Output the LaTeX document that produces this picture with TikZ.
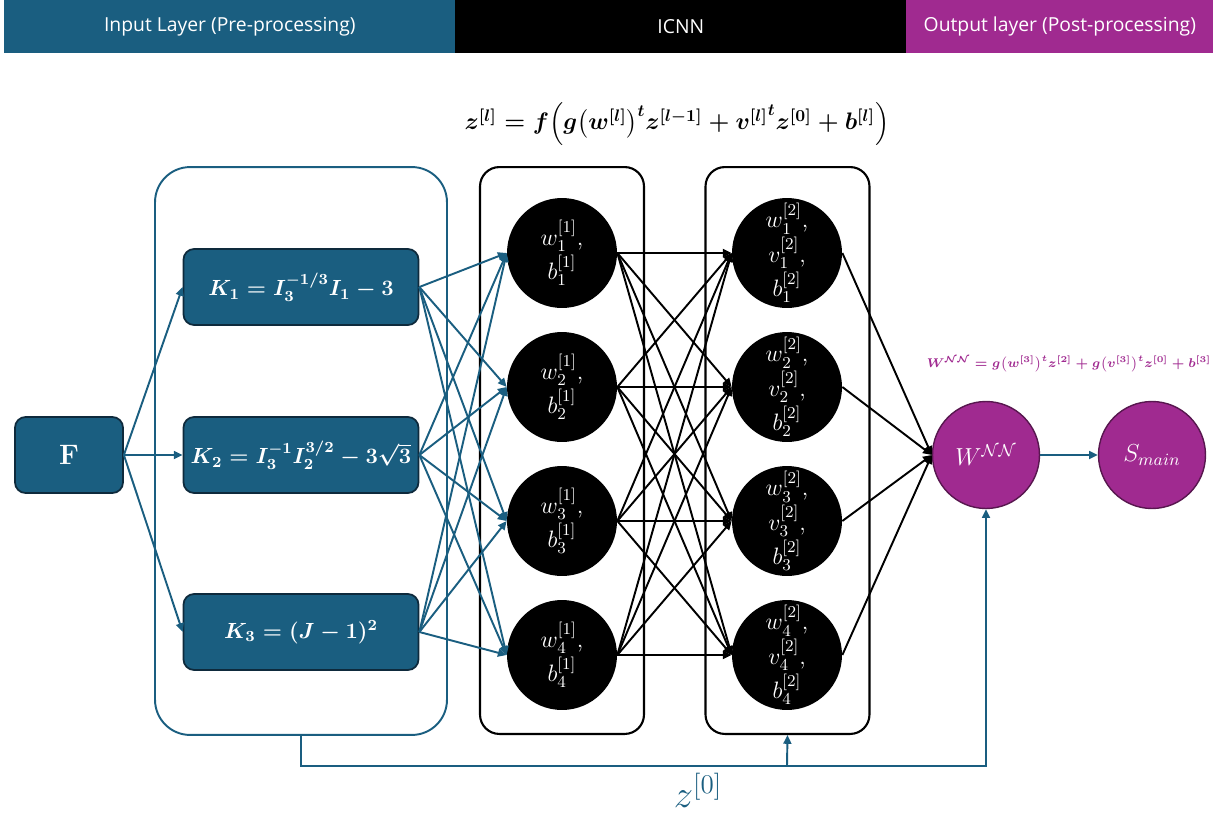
\RequirePackage{fix-cm}
\documentclass[tikz,border=0pt]{standalone}
\usepackage{amsmath,amssymb,bm}
\usepackage{fontspec}
\newfontfamily\headfont{Open Sans}
\usetikzlibrary{arrows.meta}
\definecolor{icnnteal}{RGB}{26,94,128}
\definecolor{icnndark}{RGB}{14,42,60}
\definecolor{icnnpurple}{RGB}{160,42,144}

\begin{document}
\begin{tikzpicture}[x=0.02cm,y=-0.02cm,>={Triangle[length=5pt,width=4.5pt]},
  hdr/.style={anchor=north west,minimum height=1.06cm,inner sep=0,text=white,font=\headfont\fontsize{11}{13}\selectfont},
  kbox/.style={draw=icnndark,line width=1pt,fill=icnnteal,rounded corners=6pt,text=white,minimum height=1.52cm,font=\boldmath\fontsize{12.5}{15}\selectfont},
  neuron/.style={circle,fill=black,minimum size=2.2cm,inner sep=0,text=white,align=center,font=\fontsize{13.5}{19.5}\selectfont},
  outnode/.style={circle,draw=icnnpurple!55!black,line width=0.8pt,fill=icnnpurple,minimum size=2.14cm,inner sep=0,text=white,font=\fontsize{14}{16}\selectfont},
  layerbox/.style={draw,line width=1.2pt,rounded corners=11pt,minimum width=3.28cm,minimum height=11.34cm},
  tealarr/.style={->,icnnteal,line width=1.1pt},
  blkarr/.style={->,black,line width=1.1pt}]
\useasboundingbox (0,0) rectangle (1218,818);
\node[hdr,fill=icnnteal,minimum width=9.02cm] (hin) at (4,0) {Input Layer (Pre-processing)};
\node[hdr,fill=black,minimum width=9.02cm] (hicnn) at (455,0) {ICNN};
\node[hdr,fill=icnnpurple,minimum width=6.14cm] (hout) at (906,0) {Output layer (Post-processing)};
\node[font=\boldmath\fontsize{13.6}{16}\selectfont] (law) at (677,124)
  {$z^{[l]} = f\Big(g\big(w^{[l]}\big)^{t} z^{[l-1]} + {v^{[l]}}^{t} z^{[0]} + b^{[l]}\Big)$};
\node[draw=icnnteal,line width=1.1pt,rounded corners=20pt,minimum width=5.84cm,minimum height=11.36cm] (inbox) at (301,451) {};
\node[layerbox] (lay1) at (562,450.5) {};
\node[layerbox] (lay2) at (787.5,450.5) {};
\node[kbox,minimum width=2.16cm,font=\boldmath\fontsize{16}{18}\selectfont] (F) at (69,455) {$\mathbf{F}$};
\node[kbox,minimum width=4.7cm] (K1) at (301,287) {$K_1 = I_3^{-1/3} I_1 - 3$};
\node[kbox,minimum width=4.7cm] (K2) at (301,455) {$K_2 = I_3^{-1} I_2^{3/2} - 3\sqrt{3}$};
\node[kbox,minimum width=4.7cm] (K3) at (301,632) {$K_3 = (J - 1)^2$};
\foreach \i/\y in {1/253,2/387,3/521,4/655} {
  \node[neuron] (a\i) at (562,\y) {$w_{\i}^{[1]}$,\\$b_{\i}^{[1]}$};
  \node[neuron] (h\i) at (787,\y) {$w_{\i}^{[2]}$,\\$v_{\i}^{[2]}$,\\$b_{\i}^{[2]}$};
}
\node[outnode] (wnn) at (986,455) {$W^{\mathcal{NN}}$};
\node[outnode] (smain) at (1152,455) {$S_{main}$};
\node[text=icnnpurple,font=\boldmath\fontsize{7.2}{9}\selectfont] (wlaw) at (1069,364)
  {$W^{\mathcal{NN}} = g\big(w^{[3]}\big)^{t} z^{[2]} + g\big(v^{[3]}\big)^{t} z^{[0]} + b^{[3]}$};
\foreach \k in {1,2,3} {
  \draw[tealarr] (F.east) -- (K\k.west);
  \foreach \j in {1,...,4}
    \draw[tealarr] (K\k.east) -- (a\j.west);
}
\foreach \i in {1,...,4} {
  \foreach \j in {1,...,4}
    \draw[blkarr] (a\i.east) -- (h\j.west);
  \draw[blkarr] (h\i.east) -- (wnn.west);
}
\draw[tealarr] (wnn.east) -- (smain.west);
\coordinate (zjoin) at (787,766);
\draw[tealarr] (inbox.south) -- (301,766) -| (wnn.south);
\draw[tealarr] (zjoin) -- (lay2.south);
\node[text=icnnteal,font=\fontsize{22}{24}\selectfont] (zlab) at (698,790) {$z^{[0]}$};
\end{tikzpicture}
\end{document}
